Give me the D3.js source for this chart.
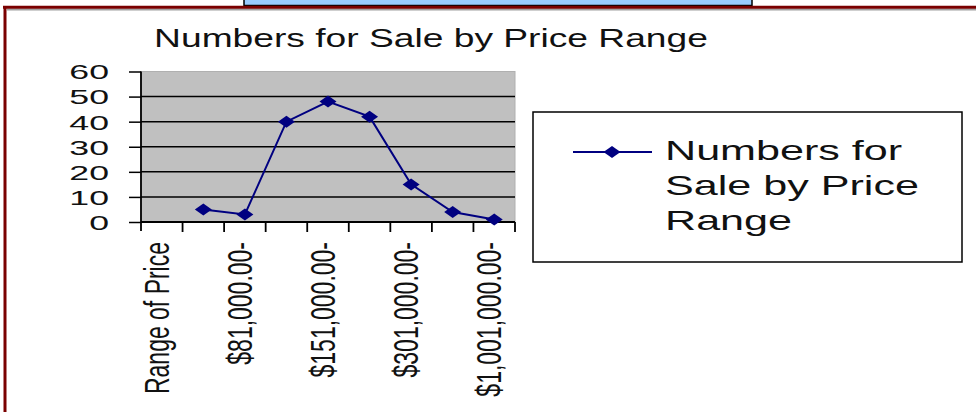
<!DOCTYPE html>
<html>
<head>
<meta charset="utf-8">
<script src="https://cdn.jsdelivr.net/npm/d3@7"></script>
<style>
  body { margin: 0; background: #fff; }
  text { font-family: "Liberation Sans", Arial, sans-serif; fill: #111; }
</style>
</head>
<body>
<div class="chart"></div>
<script>
// data
const categories = [
  "Range of Price",
  "$0.00-",
  "$81,000.00-",
  "$101,000.00-",
  "$151,000.00-",
  "$201,000.00-",
  "$301,000.00-",
  "$501,000.00-",
  "$1,001,000.00-"
];
const counts = [null, 5, 3, 40, 48, 42, 15, 4, 1];
const yTicks = [0, 10, 20, 30, 40, 50, 60];
const chartTitle = "Numbers for Sale by Price Range";
const legendLines = ["Numbers for", "Sale by Price", "Range"];

const width = 976, height = 412;
const plot = { left: 141, right: 515, top: 71.5, bottom: 222 };
const navy = "#000080";

const svg = d3
  .select(".chart")
  .append("svg")
  .attr("width", width)
  .attr("height", height);

svg.append("rect").attr("width", width).attr("height", height).attr("fill", "#fff");

// top banner (cut off page heading) and the frame
svg.append("rect")
  .attr("x", 244).attr("y", -3).attr("width", 508).attr("height", 8.5)
  .attr("fill", "#99ccff").attr("stroke", "#000").attr("stroke-width", 1.5);

svg.append("line")
  .attr("x1", 7).attr("x2", width).attr("y1", 9.5).attr("y2", 9.5)
  .attr("stroke", "#a0a0a0").attr("stroke-width", 2);
svg.append("line")
  .attr("x1", 3).attr("x2", width).attr("y1", 7.2).attr("y2", 7.2)
  .attr("stroke", "#7a0000").attr("stroke-width", 3);
svg.append("line")
  .attr("x1", 5).attr("x2", 5).attr("y1", 6).attr("y2", height)
  .attr("stroke", "#7a0000").attr("stroke-width", 3);

// title
svg.append("text")
  .attr("text-anchor", "middle")
  .attr("font-size", 26)
  .attr("transform", "translate(431,47) scale(1.43,1)")
  .text(chartTitle);

// scales
const xScale = d3.scaleBand().domain(categories).range([plot.left, plot.right]);
const yScale = d3.scaleLinear().domain([0, 60]).range([plot.bottom, plot.top]);

// plot area
svg.append("rect")
  .attr("x", plot.left).attr("y", plot.top)
  .attr("width", plot.right - plot.left).attr("height", plot.bottom - plot.top)
  .attr("fill", "#c0c0c0").attr("stroke", "#b0b0b0").attr("stroke-width", 1);

// gridlines
svg.append("g")
  .selectAll("line")
  .data(yTicks.filter((d) => d > 0 && d < 60))
  .join("line")
  .attr("x1", plot.left).attr("x2", plot.right)
  .attr("y1", (d) => yScale(d)).attr("y2", (d) => yScale(d))
  .attr("stroke", "#000").attr("stroke-width", 1.5);

// y axis
const yAxisGraph = svg.append("g")
  .attr("transform", `translate(${plot.left},0)`)
  .call(d3.axisLeft(yScale).tickValues(yTicks).tickSize(12).tickSizeOuter(0));

yAxisGraph.select(".domain").remove();
yAxisGraph.selectAll(".tick line").attr("stroke", "#000").attr("stroke-width", 1.5);
yAxisGraph.selectAll(".tick text")
  .attr("x", null)
  .attr("dy", "0.35em")
  .attr("font-size", 21)
  .attr("font-family", null)
  .attr("fill", "#111")
  .attr("text-anchor", "end")
  .attr("transform", `translate(${109 - plot.left},0) scale(1.7,1)`);

svg.append("line")
  .attr("x1", plot.left).attr("x2", plot.left)
  .attr("y1", plot.top).attr("y2", plot.bottom + 9)
  .attr("stroke", "#000").attr("stroke-width", 1.8);

// x axis
svg.append("line")
  .attr("x1", plot.left).attr("x2", plot.right)
  .attr("y1", plot.bottom).attr("y2", plot.bottom)
  .attr("stroke", "#000").attr("stroke-width", 1.8);

const boundaries = categories.map((c) => xScale(c)).concat([xScale.range()[1]]);
svg.append("g")
  .selectAll("line")
  .data(boundaries.slice(1))
  .join("line")
  .attr("x1", (d) => d).attr("x2", (d) => d)
  .attr("y1", plot.bottom).attr("y2", plot.bottom + 10)
  .attr("stroke", "#000").attr("stroke-width", 1.8);

// category labels, every other one, rotated
svg.append("g")
  .selectAll("text")
  .data(categories.filter((d, i) => i % 2 === 0))
  .join("text")
  .attr("text-anchor", "end")
  .attr("font-size", 23)
  .attr("dy", "0.2em")
  .attr("transform", (d) =>
    `translate(${xScale(d) + xScale.bandwidth() / 2},242) scale(1.5,1) rotate(-90)`)
  .text((d) => d);

// series line + markers
const points = categories.map((c, i) => ({ cat: c, value: counts[i] }));

const line = d3.line()
  .defined((d) => d.value !== null)
  .x((d) => xScale(d.cat) + xScale.bandwidth() / 2)
  .y((d) => yScale(d.value));

svg.append("path")
  .datum(points)
  .attr("d", line)
  .attr("fill", "none")
  .attr("stroke", navy)
  .attr("stroke-width", 2);

const diamond = "M0,-6L8.5,0L0,6L-8.5,0Z";

svg.append("g")
  .selectAll("path")
  .data(points.filter((d) => d.value !== null))
  .join("path")
  .attr("d", diamond)
  .attr("fill", navy)
  .attr("transform", (d) =>
    `translate(${xScale(d.cat) + xScale.bandwidth() / 2},${yScale(d.value)})`);

// legend
const legend = svg.append("g");
legend.append("rect")
  .attr("x", 533).attr("y", 112).attr("width", 429).attr("height", 150)
  .attr("fill", "#fff").attr("stroke", "#000").attr("stroke-width", 1.5);
legend.append("line")
  .attr("x1", 573).attr("x2", 652).attr("y1", 152).attr("y2", 152)
  .attr("stroke", navy).attr("stroke-width", 2);
legend.append("path")
  .attr("d", diamond)
  .attr("fill", navy)
  .attr("transform", "translate(612,152)");
legend.selectAll("text")
  .data(legendLines)
  .join("text")
  .attr("font-size", 28)
  .attr("transform", (d, i) => `translate(665,${160 + i * 35}) scale(1.54,1)`)
  .text((d) => d);
</script>
</body>
</html>
